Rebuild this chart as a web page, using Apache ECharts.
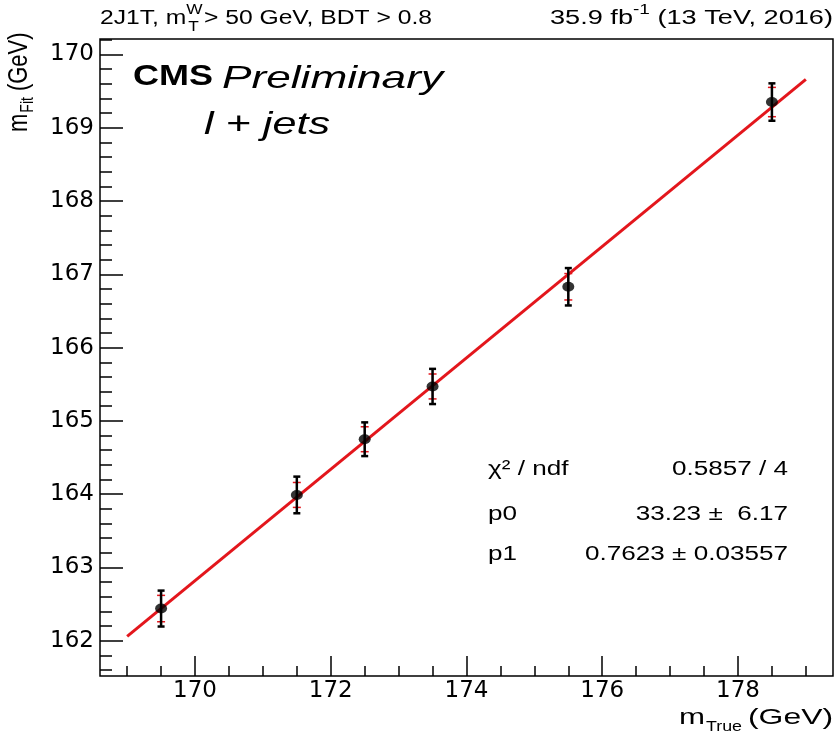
<!DOCTYPE html>
<html><head><meta charset="utf-8">
<script src="https://cdn.jsdelivr.net/npm/echarts@6/dist/echarts.min.js"></script>
<style>html,body{margin:0;padding:0;background:#fff}#c{width:837px;height:735px}</style>
</head><body><div id="c"></div>
<script>
// ---- data ----
const massTrue = [169.5, 171.5, 172.5, 173.5, 175.5, 178.5];
const massFit  = [162.44, 163.99, 164.75, 165.47, 166.83, 169.35];
const errBlack = [0.245, 0.25, 0.23, 0.24, 0.255, 0.255];
const errRed   = [0.18, 0.17, 0.17, 0.17, 0.18, 0.20];
const fitX = [169.0, 179.0];
const fitY = [162.06, 169.66];
const xMajorTicks = [170, 172, 174, 176, 178];
const xMinorTicks = [169, 169.5, 170.5, 171, 171.5, 172.5, 173, 173.5, 174.5, 175, 175.5, 176.5, 177, 177.5, 178.5, 179];
const yMajorTicks = [162, 163, 164, 165, 166, 167, 168, 169, 170];
const yMinorTicks = [161.6, 161.8, 162.2, 162.4, 162.6, 162.8, 163.2, 163.4, 163.6, 163.8,
  164.2, 164.4, 164.6, 164.8, 165.2, 165.4, 165.6, 165.8, 166.2, 166.4, 166.6, 166.8,
  167.2, 167.4, 167.6, 167.8, 168.2, 168.4, 168.6, 168.8, 169.2, 169.4, 169.6, 169.8, 170.2];
const statNames  = ['χ² / ndf', 'p0', 'p1'];
const statValues = ['0.5857 / 4', '33.23 ±  6.17', '0.7623 ± 0.03557'];

const X_MIN = 168.6, X_MAX = 179.4, Y_MIN = 161.52, Y_MAX = 170.21;
const FONT = '"Liberation Sans"';

const mctx = document.createElement('canvas').getContext('2d');
function fnt(size, weight, style) { return (style || 'normal') + ' ' + (weight || 'normal') + ' ' + size + 'px ' + FONT; }
function tw(text, font) { mctx.font = font; return mctx.measureText(text).width; }

function errBars(color, lw, capW) {
  return function (params, api) {
    const x = api.value(0), y = api.value(1), e = api.value(2);
    const t = api.coord([x, y + e]), b = api.coord([x, y - e]);
    const h = capW / 2;
    const st = { stroke: color, lineWidth: lw };
    return { type: 'group', children: [
      { type: 'line', shape: { x1: t[0], y1: t[1], x2: b[0], y2: b[1] }, style: st },
      { type: 'line', shape: { x1: t[0] - h, y1: t[1], x2: t[0] + h, y2: t[1] }, style: st },
      { type: 'line', shape: { x1: b[0] - h, y1: b[1], x2: b[0] + h, y2: b[1] }, style: st }
    ]};
  };
}

function txt(text, x, y, font, sx, align, sy) {
  return {
    type: 'text', x: x, y: y, scaleX: sx || 1, scaleY: sy || 1, z: 100,
    style: { text: text, fill: '#000', font: font,
      textAlign: align || 'left', align: align || 'left',
      textVerticalAlign: 'middle', verticalAlign: 'middle' }
  };
}

const graphics = [];

// top-left label: "2J1T, m_T^W > 50 GeV, BDT > 0.8", spanning x 100..432
(function () {
  const f1 = fnt(20), f2 = fnt(14);
  const a = '2J1T, m', w = 'W', t = 'T', b = '> 50 GeV, BDT > 0.8';
  const nat = tw(a, f1) + tw(w, f2) + 1 + tw(b, f1);
  const sx = (432 - 100) / nat;
  let x = 100;
  graphics.push(txt(a, x, 18, f1, sx));
  x += tw(a, f1) * sx;
  graphics.push(txt(w, x, 10, f2, sx));
  graphics.push(txt(t, x + 2, 27, f2, sx));
  x += (tw(w, f2) + 1) * sx;
  graphics.push(txt(b, x, 18, f1, sx));
})();
// top-right label: "35.9 fb^-1 (13 TeV, 2016)", spanning x 550..833
(function () {
  const f1 = fnt(20), f2 = fnt(14);
  const a = '35.9 fb', s = '-1', b = ' (13 TeV, 2016)';
  const nat = tw(a, f1) + tw(s, f2) + tw(b, f1);
  const sx = (833 - 550) / nat;
  let x = 833;
  graphics.push(txt(b, x, 18, f1, sx, 'right'));
  x -= tw(b, f1) * sx;
  graphics.push(txt(s, x, 10, f2, sx, 'right'));
  x -= tw(s, f2) * sx;
  graphics.push(txt(a, x, 18, f1, sx, 'right'));
})();
// CMS Preliminary, l + jets
(function () {
  const fc = fnt(30, 'bold'), fp = fnt(32, 'normal', 'italic');
  graphics.push(txt('CMS', 133, 77, fc, (213 - 133) / tw('CMS', fc)));
  graphics.push(txt('Preliminary', 222, 79, fp, (443 - 222) / tw('Preliminary', fp)));
  graphics.push(txt('l + jets', 204, 125, fp, (330 - 204) / tw('l + jets', fp)));
})();
// stats box
(function () {
  const f = fnt(20);
  const sx = (788 - 585) / tw(statValues[2], f);
  const ys = [469, 514, 554];
  statNames.forEach((n, i) => {
    graphics.push(txt(n, 488, ys[i], f, sx));
    graphics.push(txt(statValues[i], 788, ys[i], f, sx, 'right'));
  });
})();
// x title "m_True (GeV)"
(function () {
  const f1 = fnt(22), f2 = fnt(14);
  const sx = 1.3;
  let x = 833;
  graphics.push(txt('(GeV)', x, 718, f1, (833 - 748) / tw('(GeV)', f1), 'right'));
  x = 742;
  graphics.push(txt('True', x, 727, f2, (742 - 706) / tw('True', f2), 'right'));
  x = 705;
  graphics.push(txt('m', x, 718, f1, (705 - 679) / tw('m', f1), 'right'));
})();
// y title "m_Fit (GeV)" rotated
(function () {
  const f1 = fnt(22), f2 = fnt(14);
  const sy = 1.25;
  const wm = tw('m', f1), wf = tw('Fit', f2);
  graphics.push({ type: 'group', x: 19, y: 132, rotation: Math.PI / 2, z: 100, children: [
    txt('m', 0, 0, f1, 1, 'left', sy),
    txt('Fit', wm + 1, 9, f2, 1, 'left', sy),
    txt('(GeV)', wm + wf + 7, 0, f1, 1, 'left', sy)
  ]});
})();

const chart = echarts.init(document.getElementById('c'), null, { renderer: 'canvas' });
chart.setOption({
  animation: false,
  backgroundColor: '#fff',
  grid: { left: 100, right: 4, top: 39, bottom: 59, show: true, borderColor: '#000', borderWidth: 1.5, backgroundColor: 'transparent' },
  xAxis: [
    { type: 'value', min: X_MIN, max: X_MAX, position: 'bottom',
      axisLine: { show: false }, splitLine: { show: false },
      axisTick: { show: true, inside: true, length: 20, customValues: xMajorTicks, lineStyle: { color: '#000', width: 1.5 } },
      axisLabel: { show: true, customValues: xMajorTicks, formatter: v => String(v), color: '#000', fontFamily: 'DejaVu Sans', fontSize: 23, margin: 4 } },
    { type: 'value', min: X_MIN, max: X_MAX, position: 'bottom',
      axisLine: { show: false }, splitLine: { show: false },
      axisTick: { show: true, inside: true, length: 10, customValues: xMinorTicks, lineStyle: { color: '#000', width: 1.5 } },
      axisLabel: { show: false } }
  ],
  yAxis: [
    { type: 'value', min: Y_MIN, max: Y_MAX, position: 'left',
      axisLine: { show: false }, splitLine: { show: false },
      axisTick: { show: true, inside: true, length: 23, customValues: yMajorTicks, lineStyle: { color: '#000', width: 1.5 } },
      axisLabel: { show: true, customValues: yMajorTicks, formatter: v => String(v), color: '#000', fontFamily: 'DejaVu Sans', fontSize: 23, margin: 6 } },
    { type: 'value', min: Y_MIN, max: Y_MAX, position: 'left',
      axisLine: { show: false }, splitLine: { show: false },
      axisTick: { show: true, inside: true, length: 12, customValues: yMinorTicks, lineStyle: { color: '#000', width: 1.5 } },
      axisLabel: { show: false } }
  ],
  series: [
    { type: 'line', xAxisIndex: 0, yAxisIndex: 0, data: fitX.map((x, i) => [x, fitY[i]]),
      symbol: 'none', lineStyle: { color: '#e3161c', width: 3 }, z: 2 },
    { type: 'custom', xAxisIndex: 0, yAxisIndex: 0, renderItem: errBars('#e3161c', 1.5, 8),
      data: massTrue.map((x, i) => [x, massFit[i], errRed[i]]), z: 3 },
    { type: 'custom', xAxisIndex: 0, yAxisIndex: 0, renderItem: errBars('#000', 2.5, 7),
      data: massTrue.map((x, i) => [x, massFit[i], errBlack[i]]), z: 4 },
    { type: 'scatter', xAxisIndex: 0, yAxisIndex: 0, data: massTrue.map((x, i) => [x, massFit[i]]),
      symbol: 'circle', symbolSize: [12, 10], itemStyle: { color: '#000' }, z: 5 }
  ],
  graphic: graphics
});
</script>
</body></html>
